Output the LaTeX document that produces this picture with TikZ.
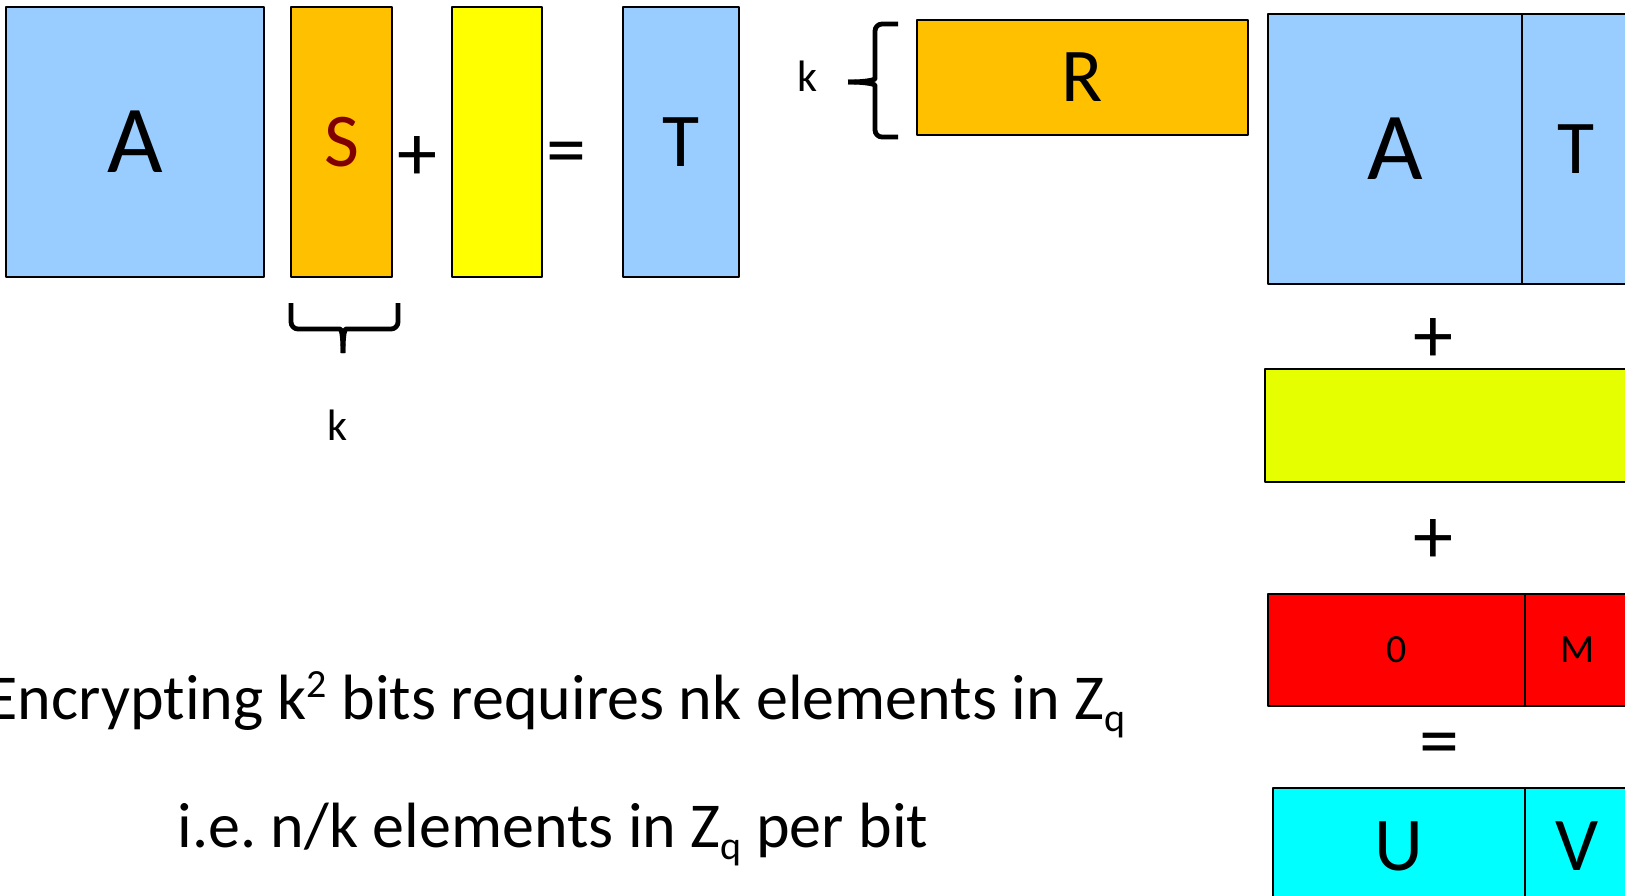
\documentclass[tikz,border=0pt]{standalone}
\usepackage{fontspec}
\setmainfont{Carlito}[Ligatures=NoCommon]
\usetikzlibrary{positioning}

\definecolor{lightblue}{RGB}{153,204,255}
\definecolor{amber}{RGB}{255,192,0}
\definecolor{lemon}{RGB}{255,255,0}
\definecolor{lime}{RGB}{229,255,0}
\definecolor{maroon}{RGB}{128,0,0}
\definecolor{aqua}{RGB}{0,255,255}

% raised / lowered indices in the running text
\newcommand{\supidx}[1]{\raisebox{11pt}{\fontsize{20}{20}\selectfont #1}}
\newcommand{\subidx}[1]{\raisebox{-6pt}{\fontsize{20}{20}\selectfont #1}}

\begin{document}
\begin{tikzpicture}[x=0.5pt,y=-0.5pt,line join=round,
    mat/.style={draw,line width=1pt,inner sep=0pt,outer sep=0pt},
    bigtxt/.style={font=\fontsize{48}{48}\selectfont},
    midtxt/.style={font=\fontsize{38}{38}\selectfont},
    smalltxt/.style={font=\fontsize{20}{20}\selectfont},
    lab/.style={font=\fontsize{22}{22}\selectfont,inner sep=0pt},
    op/.style={font=\fontsize{40}{40}\selectfont,inner sep=0pt},
    brace/.style={line width=2.4pt,line cap=butt}]
    \useasboundingbox (0,0) rectangle (1625,895);
    \clip (0,0) rectangle (1625,895);

    % A S + E = T
    \node[mat,fill=lightblue,bigtxt,minimum width=129pt,minimum height=135pt] (matA) at (135,142) {A};
    \node[mat,fill=amber,midtxt,text=maroon,minimum width=50.5pt,minimum height=135pt] (matS) at (341.5,142) {S};
    \node[mat,fill=lemon,minimum width=45pt,minimum height=135pt] (matE) at (497,142) {};
    \node[mat,fill=lightblue,midtxt,minimum width=58pt,minimum height=135pt] (matT) at (681,142) {T};
    \node[op] (plusSE) at (417,159) {+};
    \node[op] (eqET) at (566,159) {=};

    % k columns of S
    \draw[brace] (291,303) [rounded corners=3.5pt] -- (291,329) -- (333,329) [sharp corners]
        .. controls (341,329) and (343,333) .. (343,353);
    \draw[brace] (398,303) [rounded corners=3.5pt] -- (398,329) -- (353,329) [sharp corners]
        .. controls (345,329) and (343,333) .. (343,353);
    \node[lab] (kS) at (337,425) {k};

    % k rows of R
    \node[lab] (kR) at (807,76) {k};
    \draw[brace] (898,24) [rounded corners=3.5pt] -- (875,24) -- (875,72) [sharp corners]
        .. controls (875,79) and (870,82) .. (848,82);
    \draw[brace] (898,137) [rounded corners=3.5pt] -- (875,137) -- (875,92) [sharp corners]
        .. controls (875,85) and (870,82) .. (848,82);
    \node[mat,fill=amber,midtxt,minimum width=165.5pt,minimum height=57.5pt] (matR) at (1082.5,77.5) {R};

    % R (A|T) + E' + (0|M) = (U|V)
    \node[mat,fill=lightblue,bigtxt,minimum width=127pt,minimum height=135pt] (colA) at (1395,149) {A};
    \node[mat,fill=lightblue,midtxt,minimum width=54pt,minimum height=135pt,right=0pt of colA] (colT) {T};
    \node[op] (plusE) at (1433,340) {+};
    \node[mat,fill=lime,minimum width=217.5pt,minimum height=56.5pt] (rowE) at (1482.5,425.5) {};
    \node[op] (plusM) at (1433,541) {+};
    \node[mat,fill=red,smalltxt,minimum width=128.5pt,minimum height=56pt] (rowZ) at (1396.5,650) {0};
    \node[mat,fill=red,smalltxt,minimum width=52.5pt,minimum height=56pt,right=0pt of rowZ] (rowM) {M};
    \node[op] (eqUV) at (1439,750) {=};
    \node[mat,fill=aqua,midtxt,minimum width=126pt,minimum height=58pt] (rowU) at (1399,846) {U};
    \node[mat,fill=aqua,midtxt,minimum width=52.5pt,minimum height=58pt,right=0pt of rowU] (rowV) {V};

    % cost
    \node[anchor=base,font=\fontsize{32}{38}\selectfont,inner sep=0pt] (cost) at (556,719)
        {Encrypting k\supidx{2} bits requires nk elements in Z\subidx{q}};
    \node[anchor=base,font=\fontsize{32}{38}\selectfont,inner sep=0pt] (rate) at (553,847)
        {i.e.\ n/k elements in Z\subidx{q} per bit};
\end{tikzpicture}
\end{document}
